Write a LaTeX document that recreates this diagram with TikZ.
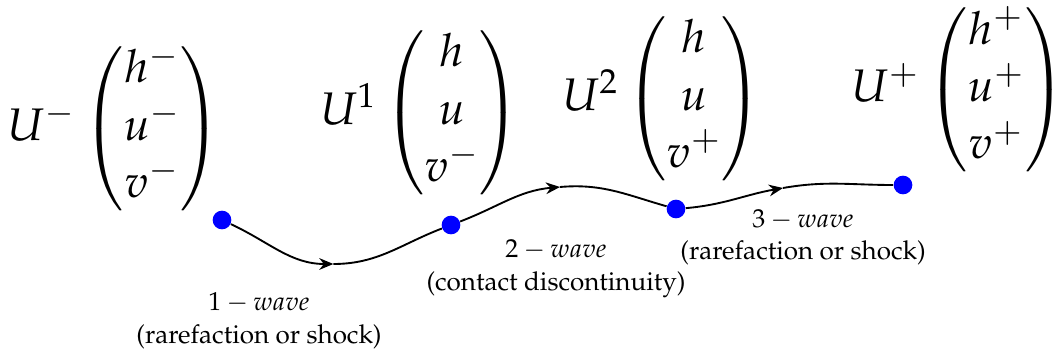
\documentclass[tikz,border=0pt]{standalone}
\usepackage{amsmath}
\usepackage[T1]{fontenc}
\usepackage{mathpazo}
\usetikzlibrary{arrows.meta}

\begin{document}
\begin{tikzpicture}[
    dot/.style={circle, fill=blue, inner sep=0pt, minimum size=0.28cm},
    wave/.style={thick, -{Stealth[length=6pt,width=5pt]}},
    statevec/.style={inner sep=0pt, anchor=east, font=\fontsize{19.5}{24.5}\selectfont},
    wavetext/.style={align=center, inner sep=0pt, font=\fontsize{11.1}{14}\selectfont}]
    % Frame
    \useasboundingbox (0,0) rectangle (15.885,5.34);

    % States
    \node[statevec] (Uminus) at (3.33,3.41) {$U^-\begin{pmatrix} h^- \\ u^- \\ v^- \end{pmatrix}$};
    \node[statevec] (Uone) at (7.81,3.65) {$U^1\begin{pmatrix} h \\ u \\ v^- \end{pmatrix}$};
    \node[statevec] (Utwo) at (11.44,3.86) {$U^2\begin{pmatrix} h \\ u \\ v^+ \end{pmatrix}$};
    \node[statevec] (Uplus) at (15.99,3.99) {$U^+\begin{pmatrix} h^+ \\ u^+ \\ v^+ \end{pmatrix}$};

    % Points
    \foreach \n/\x/\y in {1/3.33/2.04, 2/6.765/1.965, 3/10.14/2.205, 4/13.545/2.565}
        \node[dot] (d\n) at (\x,\y) {};

    % Arrow heads sit here
    \coordinate (m1) at (5.0,1.38);
    \coordinate (m2) at (8.4,2.535);
    \coordinate (m3) at (11.745,2.52);

    % Waves
    \draw[wave] (d1) to[out=-25,in=180] (m1);
    \draw[thick] (m1) to[out=0,in=201] (d2);
    \draw[wave] (d2) to[out=21,in=185] (m2);
    \draw[thick] (m2) to[out=5,in=164] (d3);
    \draw[wave] (d3) to[out=5,in=190] (m3);
    \draw[thick] (m3) to[out=10,in=180] (d4);

    % Labels
    \node[wavetext] (w1) at (3.885,0.525) {$1-wave$\\(rarefaction or shock)};
    \node[wavetext] (w2) at (8.34,1.305) {$2-wave$\\(contact discontinuity)};
    \node[wavetext] (w3) at (12.045,1.78) {$3-wave$\\(rarefaction or shock)};
\end{tikzpicture}
\end{document}
